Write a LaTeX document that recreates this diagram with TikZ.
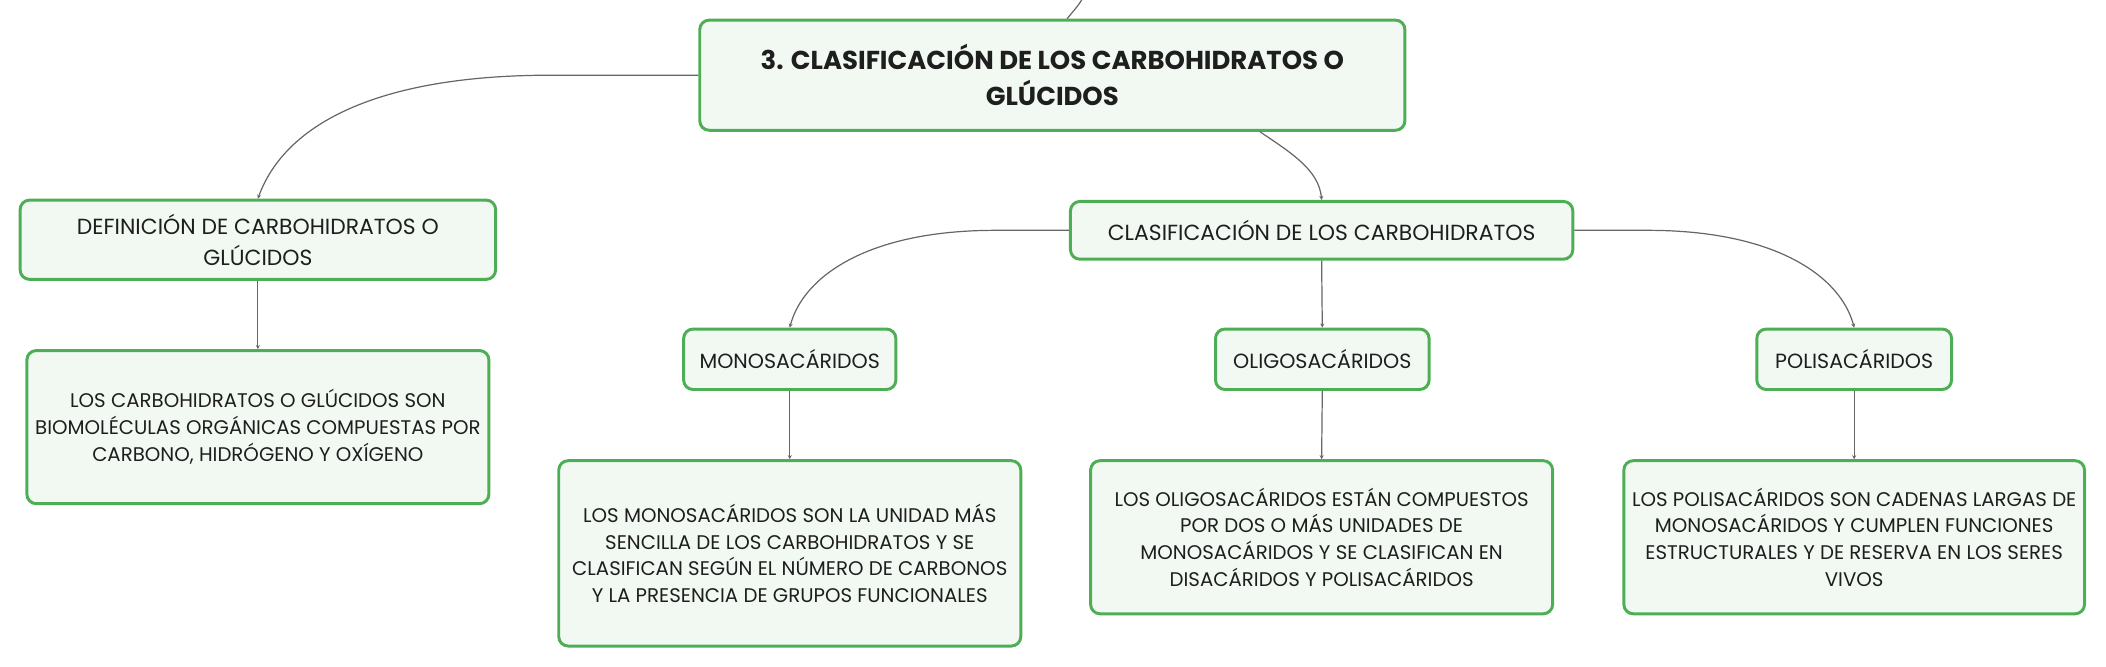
\documentclass[tikz,border=0pt]{standalone}
\usepackage{fontspec}
\setmainfont{Poppins}
\usetikzlibrary{arrows.meta,calc}
\definecolor{bfill}{HTML}{F2F9F3}
\definecolor{bdraw}{HTML}{4EAE55}
\definecolor{lcol}{HTML}{666666}
\definecolor{tcol}{HTML}{1E1E1E}
\begin{document}
\begin{tikzpicture}[x=1pt,y=-1pt,
  box/.style={draw=bdraw, fill=bfill, line width=2.2pt, rounded corners=7pt,
    inner sep=0pt, align=center, text=tcol, font=\fontsize{14.7}{20}\selectfont},
  headbox/.style={box, font=\fontsize{15.3}{23}\selectfont},
  bighead/.style={box, font=\fontsize{16.3}{23}\selectfont},
  titlebox/.style={box, font=\fontsize{19.3}{27}\selectfont\bfseries},
  conn/.style={draw=lcol, line width=0.9pt, -{Stealth[length=3pt,width=3pt]}},
  plain/.style={draw=lcol, line width=0.9pt}]
\useasboundingbox (0,0) rectangle (1568,496.6);

\node[titlebox, minimum width=525pt, minimum height=82pt] (title) at (783.5,56)
  {3. CLASIFICACIÓN DE LOS CARBOHIDRATOS O\\GLÚCIDOS};
\node[bighead, minimum width=354pt, minimum height=59pt] (def) at (192,178.5)
  {DEFINICIÓN DE CARBOHIDRATOS O\\GLÚCIDOS};
\node[box, minimum width=344pt, minimum height=114pt] (deft) at (192,318)
  {LOS CARBOHIDRATOS O GLÚCIDOS SON\\BIOMOLÉCULAS ORGÁNICAS COMPUESTAS POR\\CARBONO, HIDRÓGENO Y OXÍGENO};
\node[bighead, minimum width=374pt, minimum height=43pt] (clas) at (984,171.5)
  {CLASIFICACIÓN DE LOS CARBOHIDRATOS};
\node[headbox, minimum width=158pt, minimum height=45pt] (mono) at (588,267.5)
  {MONOSACÁRIDOS};
\node[headbox, minimum width=159pt, minimum height=45pt] (oligo) at (984.5,267.5)
  {OLIGOSACÁRIDOS};
\node[headbox, minimum width=145pt, minimum height=45pt] (poli) at (1380.5,267.5)
  {POLISACÁRIDOS};
\node[box, minimum width=344pt, minimum height=138pt] (monot) at (588,412)
  {LOS MONOSACÁRIDOS SON LA UNIDAD MÁS\\SENCILLA DE LOS CARBOHIDRATOS Y SE\\CLASIFICAN SEGÚN EL NÚMERO DE CARBONOS\\Y LA PRESENCIA DE GRUPOS FUNCIONALES};
\node[box, minimum width=344pt, minimum height=114pt] (oligot) at (984,400)
  {LOS OLIGOSACÁRIDOS ESTÁN COMPUESTOS\\POR DOS O MÁS UNIDADES DE\\MONOSACÁRIDOS Y SE CLASIFICAN EN\\DISACÁRIDOS Y POLISACÁRIDOS};
\node[box, minimum width=343pt, minimum height=114pt] (polit) at (1380.5,400)
  {LOS POLISACÁRIDOS SON CADENAS LARGAS DE\\MONOSACÁRIDOS Y CUMPLEN FUNCIONES\\ESTRUCTURALES Y DE RESERVA EN LOS SERES\\VIVOS};

\coordinate (top) at (806,-1);
\draw[plain] ($(title.north)+(11,0)$) .. controls +(5,-6) and +(-3,5) .. (top);
\draw[conn] (title.west) -- ++(-110,0) .. controls +(-130,0) and +(20,-55) .. (def.north);
\draw[conn] ($(title.south)+(154.5,0)$) .. controls +(24,16) and +(-2,-22) .. (clas.north);
\draw[conn] (clas.west) -- ++(-55,0) .. controls +(-95,0) and +(10,-38) .. (mono.north);
\draw[conn] (clas.south) -- (oligo.north);
\draw[conn] (clas.east) -- ++(55,0) .. controls +(95,0) and +(-10,-38) .. (poli.north);
\draw[conn] (def.south) -- (deft.north);
\draw[conn] (mono.south) -- (monot.north);
\draw[conn] (oligo.south) -- (oligot.north);
\draw[conn] (poli.south) -- (polit.north);
\end{tikzpicture}
\end{document}
